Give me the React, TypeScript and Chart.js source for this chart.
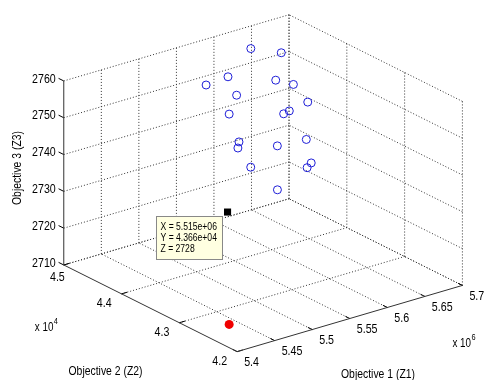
import React, { useEffect, useRef } from 'react';
import { Chart, registerables } from 'chart.js';
Chart.register(...registerables);

// Objective values (Objective 1 in units of 1e6, Objective 2 in units of 1e4)
const obj1 = [5.626, 5.655, 5.578, 5.591, 5.613, 5.625, 5.584, 5.621, 5.551, 5.608, 5.612, 5.541, 5.528, 5.569, 5.596, 5.522, 5.591, 5.574, 5.546];
const obj2 = [4.470, 4.455, 4.485, 4.464, 4.410, 4.395, 4.440, 4.365, 4.410, 4.380, 4.395, 4.380, 4.365, 4.350, 4.335, 4.335, 4.320, 4.305, 4.320];
const obj3 = [2757.6, 2755.9, 2749.4, 2752.5, 2754.5, 2753.8, 2749.8, 2751.6, 2749.0, 2748.8, 2746.6, 2744.4, 2744.7, 2744.0, 2745.3, 2742.2, 2740.4, 2741.3, 2735.8];

const idealPoint = [5.439, 4.2645, 2710];
const selectedPoint = [5.515, 4.366, 2728];
const selectedLabels = ['X = 5.515e+06', 'Y = 4.366e+04', 'Z = 2728'];

const xTicks = [5.4, 5.45, 5.5, 5.55, 5.6, 5.65, 5.7];
const xTickLabels = ['5.4', '5.45', '5.5', '5.55', '5.6', '5.65', '5.7'];
const yTicks = [4.2, 4.3, 4.4, 4.5];
const yTickLabels = ['4.2', '4.3', '4.4', '4.5'];
const zTicks = [2710, 2720, 2730, 2740, 2750, 2760];
const zTickLabels = ['2710', '2720', '2730', '2740', '2750', '2760'];

const xTitle = 'Objective 1 (Z1)';
const yTitle = 'Objective 2 (Z2)';
const zTitle = 'Objective 3 (Z3)';

const xMin = 5.4, xMax = 5.7, yMin = 4.2, yMax = 4.5, zMin = 2710, zMax = 2760;

// 3D view projection (azimuth/elevation of the MATLAB view)
function proj(x: number, y: number, z: number) {
  const a = (x - xMin) / (xMax - xMin);
  const b = (y - yMin) / (yMax - yMin);
  const c = (z - zMin) / (zMax - zMin);
  return { x: 230 * a - 177 * b, y: 68 * a + 89 * b + 189 * c };
}

const FONT = '"Liberation Sans", Arial, sans-serif';

function seg(p1: number[], p2: number[], color: string, dashed: boolean) {
  return {
    type: 'line' as const,
    data: [proj(p1[0], p1[1], p1[2]), proj(p2[0], p2[1], p2[2])],
    borderColor: color,
    borderWidth: 1,
    borderDash: dashed ? [1, 2] : [],
    pointRadius: 0,
    showLine: true,
    fill: false,
    order: dashed ? 10 : 5,
  };
}

// narrow text (MATLAB's screen font is condensed)
function narrowText(ctx: CanvasRenderingContext2D, s: string, x: number, y: number, size: number, align: CanvasTextAlign, squeeze = 0.82, rot = 0) {
  ctx.save();
  ctx.translate(x, y);
  if (rot) ctx.rotate(rot);
  ctx.scale(squeeze, 1);
  ctx.font = size + 'px ' + FONT;
  ctx.textAlign = align;
  ctx.textBaseline = 'middle';
  ctx.fillText(s, 0, 0);
  const w = ctx.measureText(s).width * squeeze;
  ctx.restore();
  return w;
}

const labelsPlugin = {
  id: 'labels3d',
  afterDraw(chart: any) {
    const ctx: CanvasRenderingContext2D = chart.ctx;
    const sx = chart.scales.x, sy = chart.scales.y;
    const P = (x: number, y: number, z: number) => {
      const p = proj(x, y, z);
      return [sx.getPixelForValue(p.x), sy.getPixelForValue(p.y)];
    };
    ctx.save();
    ctx.fillStyle = '#000';
    // z tick labels
    zTicks.forEach((z, i) => {
      const [px, py] = P(xMin, yMax, z);
      narrowText(ctx, zTickLabels[i], px - 8, py - 2, 13, 'right');
    });
    // x tick labels
    xTicks.forEach((x, i) => {
      const [px, py] = P(x, yMin, zMin);
      narrowText(ctx, xTickLabels[i], px + 7, py + 11, 13, 'left');
    });
    // y tick labels
    yTicks.forEach((y, i) => {
      const [px, py] = P(xMin, y, zMin);
      const last = i === yTicks.length - 1;
      narrowText(ctx, yTickLabels[i], last ? px + 1 : px - 10, last ? py + 12.5 : py + 10, 13, 'right');
    });
    // multipliers
    const drawMult = (x0: number, y0: number, exp: string) => {
      const w = narrowText(ctx, 'x 10', x0, y0, 12, 'left');
      narrowText(ctx, exp, x0 + w + 0.5, y0 - 6, 9, 'left');
    };
    const [ax, ay] = P(xMax, yMin, zMin);
    drawMult(ax - 10, ay + 58, '6');
    const [bx, by] = P(xMin, yMax, zMin);
    drawMult(bx - 29, by + 63, '4');
    // titles
    narrowText(ctx, xTitle, 378, 374, 13, 'center', 0.8);
    narrowText(ctx, yTitle, 105.5, 371, 13, 'center', 0.8);
    narrowText(ctx, zTitle, 17.5, 168, 13, 'center', 0.8, -Math.PI / 2);
    // data tip
    const [tx, ty] = P(selectedPoint[0], selectedPoint[1], selectedPoint[2]);
    const bx0 = Math.round(tx - 72) + 0.5, by0 = Math.round(ty + 4) + 0.5;
    ctx.fillStyle = '#ffffe1';
    ctx.fillRect(bx0, by0, 66, 43);
    ctx.strokeStyle = '#888';
    ctx.lineWidth = 1;
    ctx.strokeRect(bx0, by0, 66, 43);
    ctx.fillStyle = '#000';
    selectedLabels.forEach((s, i) => narrowText(ctx, s, bx0 + 4, by0 + 10.5 + i * 11, 10, 'left', 0.86));
    ctx.restore();
  },
};

export default function App() {
  const ref = useRef<HTMLCanvasElement>(null);
  useEffect(() => {
    const datasets: any[] = [];
    // floor grid (z = zMin)
    xTicks.forEach((x) => datasets.push(seg([x, yMin, zMin], [x, yMax, zMin], '#333', x !== xMin)));
    yTicks.forEach((y) => datasets.push(seg([xMin, y, zMin], [xMax, y, zMin], '#333', y !== yMin)));
    // back wall (y = yMax)
    xTicks.forEach((x) => datasets.push(seg([x, yMax, zMin], [x, yMax, zMax], '#333', x !== xMin)));
    zTicks.forEach((z) => datasets.push(seg([xMin, yMax, z], [xMax, yMax, z], '#333', true)));
    // right wall (x = xMax)
    yTicks.forEach((y) => datasets.push(seg([xMax, y, zMin], [xMax, y, zMax], '#333', true)));
    zTicks.forEach((z) => datasets.push(seg([xMax, yMin, z], [xMax, yMax, z], '#333', true)));
    // tick marks
    zTicks.forEach((z) => datasets.push(seg([xMin, yMax, z], [xMin, yMax + 0.009, z], '#000', false)));
    xTicks.forEach((x) => datasets.push(seg([x, yMin, zMin], [x, yMin + 0.0075, zMin], '#000', false)));
    yTicks.forEach((y) => datasets.push(seg([xMin, y, zMin], [xMin + 0.0075, y, zMin], '#000', false)));
    // points
    datasets.push({
      type: 'scatter',
      data: obj1.map((v, i) => proj(v, obj2[i], obj3[i])),
      pointStyle: 'circle',
      pointRadius: 4,
      pointBorderWidth: 1,
      pointBackgroundColor: 'rgba(0,0,0,0)',
      pointBorderColor: 'rgb(30,30,215)',
      showLine: false,
      order: 1,
    });
    datasets.push({
      type: 'scatter',
      data: [proj(idealPoint[0], idealPoint[1], idealPoint[2])],
      pointStyle: 'circle',
      pointRadius: 4.5,
      pointBorderWidth: 0,
      pointBackgroundColor: 'rgb(240,0,0)',
      pointBorderColor: 'rgb(240,0,0)',
      showLine: false,
      order: 0,
    });
    datasets.push({
      type: 'scatter',
      data: [proj(selectedPoint[0], selectedPoint[1], selectedPoint[2])],
      pointStyle: 'rect',
      pointRadius: 5,
      pointBorderWidth: 0,
      pointBackgroundColor: '#000',
      pointBorderColor: '#000',
      showLine: false,
      order: 0,
    });
    const chart = new Chart(ref.current!, {
      type: 'scatter',
      data: { datasets },
      options: {
        animation: false,
        responsive: false,
        devicePixelRatio: 1,
        layout: { padding: 0 },
        events: [],
        scales: {
          x: { type: 'linear', min: -237, max: 250, display: false },
          y: { type: 'linear', min: -24, max: 356, display: false },
        },
        plugins: { legend: { display: false }, tooltip: { enabled: false } },
      },
      plugins: [labelsPlugin],
    } as any);
    return () => chart.destroy();
  }, []);
  return (
    <div style={{ position: 'absolute', left: 0, top: 0, width: 487, height: 380, background: '#fff' }}>
      <canvas ref={ref} width={487} height={380} style={{ display: 'block' }} />
    </div>
  );
}
